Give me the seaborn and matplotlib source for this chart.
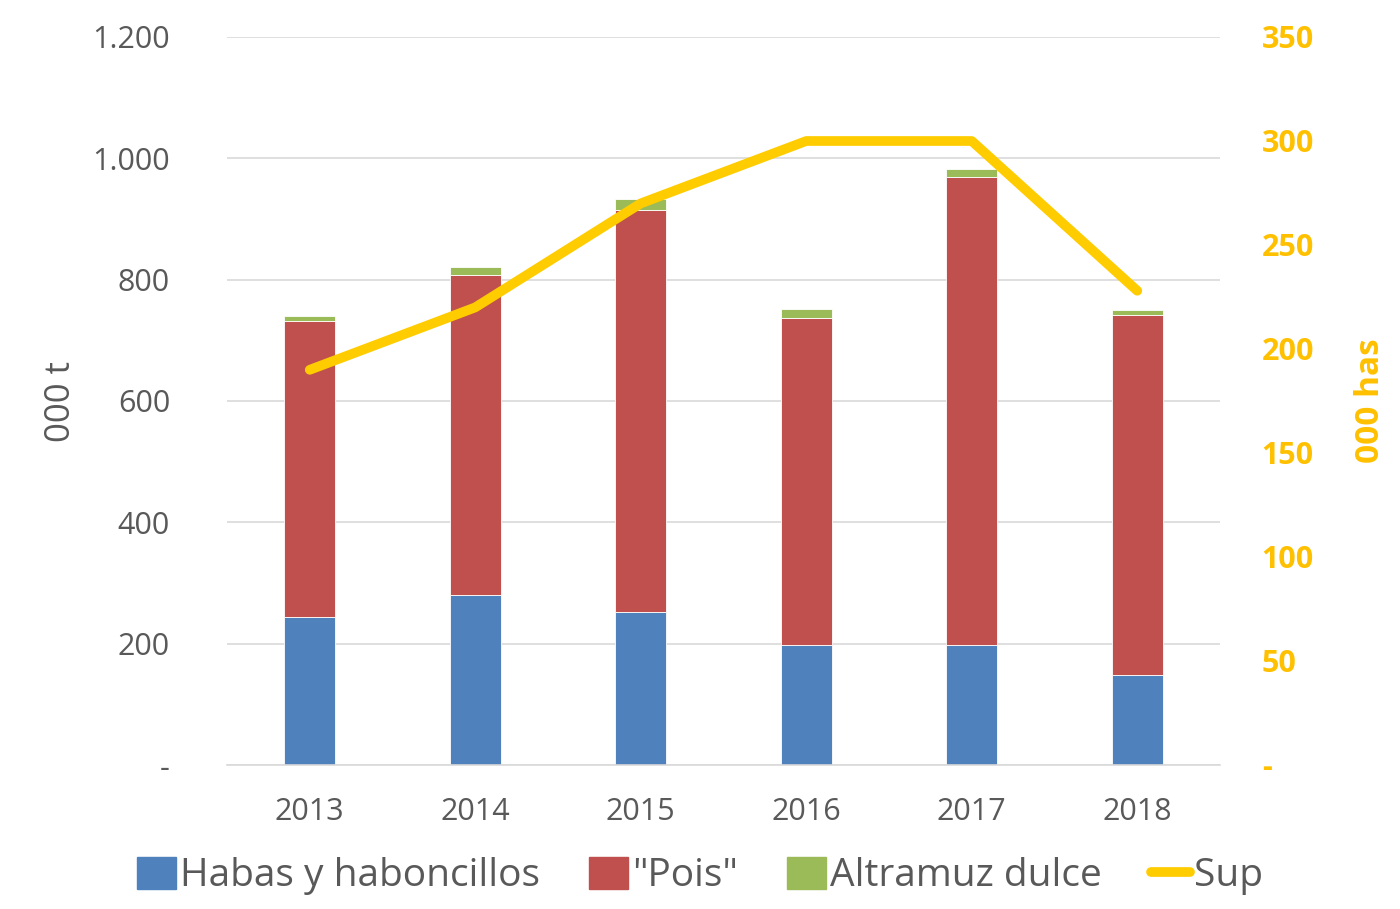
import matplotlib
matplotlib.use("Agg")
import matplotlib.pyplot as plt
import numpy as np
import pandas as pd
import seaborn as sns
from matplotlib.lines import Line2D
from matplotlib.patches import Patch
from matplotlib.ticker import FixedLocator

years = ["2013", "2014", "2015", "2016", "2017", "2018"]
habas = [244, 280, 252, 198, 198, 148]
pois = [488, 528, 663, 539, 771, 594]
altramuz = [8, 13, 18, 15, 13, 8]
sup = [190, 220, 270, 300, 300, 228]

left_ticks = [0, 200, 400, 600, 800, 1000, 1200]
left_labels = ["-", "200", "400", "600", "800", "1.000", "1.200"]
right_ticks = [0, 50, 100, 150, 200, 250, 300, 350]
right_labels = ["-", "50", "100", "150", "200", "250", "300", "350"]

BLUE, RED, GREEN = "#4F81BD", "#C0504D", "#9BBB59"
GOLD_LINE, GOLD_TXT = "#FFCC00", "#FFC000"
GREY_TXT = "#595959"

sns.set_style("white")
plt.rcParams["font.family"] = ["Open Sans", "DejaVu Sans"]

df = pd.DataFrame({"year": years, "habas": habas, "pois": pois, "altramuz": altramuz})
df["base2"] = df["habas"] + df["pois"]

fig = plt.figure(figsize=(14, 9.09), dpi=100)
ax = fig.add_axes([227 / 1400, 1 - 765 / 909, (1220 - 227) / 1400, (765 - 37) / 909])

sns.barplot(data=df, x="year", y="habas", color=BLUE, width=0.31, ax=ax,
            saturation=1, edgecolor="white", linewidth=0.6)
sns.barplot(data=df, x="year", y="pois", bottom=df["habas"], color=RED, width=0.31,
            ax=ax, saturation=1, edgecolor="white", linewidth=0.6)
sns.barplot(data=df, x="year", y="altramuz", bottom=df["base2"], color=GREEN, width=0.31,
            ax=ax, saturation=1, edgecolor="white", linewidth=0.6)

ax.set_ylim(0, 1200)
ax.set_xlim(-0.5, 5.5)
ax.yaxis.set_major_locator(FixedLocator(left_ticks))
ax.set_yticklabels(left_labels)
ax.grid(axis="y", color="#D9D9D9", linewidth=1.2)
ax.set_axisbelow(True)
for s in ["top", "right", "left"]:
    ax.spines[s].set_visible(False)
ax.spines["bottom"].set_color("#D9D9D9")
ax.spines["bottom"].set_linewidth(1.2)
ax.tick_params(axis="y", length=0, pad=41, labelsize=22, labelcolor=GREY_TXT)
ax.tick_params(axis="x", length=0, pad=23, labelsize=22, labelcolor=GREY_TXT)
ax.set_xlabel("")
ax.set_ylabel("000 t", fontsize=25, color=GREY_TXT)
ax.yaxis.set_label_coords(-0.150, 0.5)

ax2 = ax.twinx()
sns.lineplot(x=np.arange(len(years)), y=sup, ax=ax2, color=GOLD_LINE, linewidth=7,
             solid_capstyle="round", solid_joinstyle="round")
ax2.set_ylim(0, 350)
ax2.yaxis.set_major_locator(FixedLocator(right_ticks))
ax2.set_yticklabels(right_labels)
for s in ax2.spines.values():
    s.set_visible(False)
ax2.tick_params(axis="y", length=0, pad=30, labelsize=22, labelcolor=GOLD_TXT)
for t in ax2.get_yticklabels():
    t.set_fontweight("bold")
ax2.set_ylabel("000 has", fontsize=24, color=GOLD_TXT, fontweight="bold")
ax2.yaxis.set_label_coords(1.135, 0.5)

handles = [
    Patch(color=BLUE, label="Habas y haboncillos"),
    Patch(color=RED, label='"Pois"'),
    Patch(color=GREEN, label="Altramuz dulce"),
    Line2D([], [], color=GOLD_LINE, linewidth=7, solid_capstyle="round", label="Sup"),
]
leg = fig.legend(handles=handles, loc="center", bbox_to_anchor=(0.5, 1 - 876 / 909),
                 ncol=4, frameon=False, fontsize=28, handlelength=1.0, handleheight=0.9,
                 handletextpad=0.12, columnspacing=1.25)
for t in leg.get_texts():
    t.set_color(GREY_TXT)

fig.savefig("out.png", dpi=100, facecolor="white")
